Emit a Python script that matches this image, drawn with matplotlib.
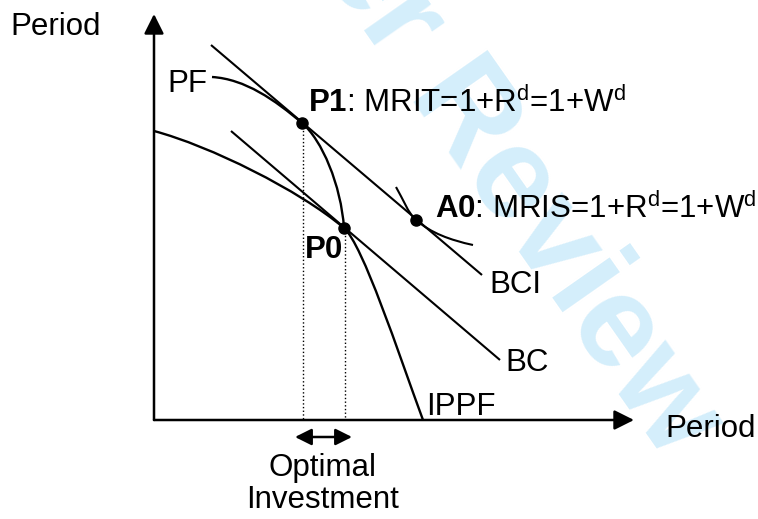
import matplotlib
matplotlib.use("Agg")
import matplotlib.pyplot as plt
from matplotlib.path import Path
from matplotlib.patches import PathPatch

plt.rcParams["font.family"] = ["Liberation Sans", "DejaVu Sans"]
plt.rcParams["mathtext.fontset"] = "custom"
plt.rcParams["mathtext.rm"] = "Liberation Sans"
plt.rcParams["mathtext.bf"] = "Liberation Sans:bold"

W, H = 758, 519

# diagram geometry in pixel units (y grows downward)
origin = (154, 420)
y_axis_top = 14
x_axis_right = 634

# budget lines (parallel)
bci_x = [211, 482]
bci_y = [45, 275]
bc_x = [231, 500]
bc_y = [131, 360]

# tangency points
pts = {"P1": (302, 123), "P0": (344, 228), "A0": (416, 220)}

# bezier anchors / controls: PF, IPPF and the indifference curve through A0
pf_x = [212, 245, 275, 302, 322, 341, 344]
pf_y = [77, 79, 100, 123, 140, 185, 228]
ippf_x = [154, 210, 299, 344, 363, 398, 423]
ippf_y = [131, 146, 190, 228, 245, 352, 420]
ic_x = [396, 403, 408, 416, 431, 450, 473]
ic_y = [187, 199, 213, 220, 233, 240, 245]

fig = plt.figure(figsize=(W / 100, H / 100), dpi=100)
ax = fig.add_axes([0, 0, 1, 1])
ax.set_xlim(0, W)
ax.set_ylim(H, 0)
ax.axis("off")

# watermark
ax.text(474, 128, "Peer Review", rotation=-55, rotation_mode="anchor",
        fontsize=94, fontweight="bold", color="#d4eefb",
        ha="center", va="center", zorder=0)


def bezier(xs, ys, **kw):
    verts = list(zip(xs, ys))
    codes = [Path.MOVETO] + [Path.CURVE4] * (len(verts) - 1)
    ax.add_patch(PathPatch(Path(verts, codes), fill=False, **kw))


# axes with arrowheads
ax_kw = dict(arrowstyle="-|>,head_length=12,head_width=6", mutation_scale=1,
             lw=1.8, color="black", shrinkA=0, shrinkB=0)
ax.annotate("", xy=(origin[0], y_axis_top), xytext=origin, arrowprops=ax_kw)
ax.annotate("", xy=(x_axis_right, origin[1]), xytext=origin, arrowprops=ax_kw)

ax.plot(bci_x, bci_y, color="black", lw=1.5, solid_capstyle="butt")
ax.plot(bc_x, bc_y, color="black", lw=1.5, solid_capstyle="butt")
bezier(pf_x, pf_y, lw=1.7, edgecolor="black")
bezier(ippf_x, ippf_y, lw=1.7, edgecolor="black")
bezier(ic_x, ic_y, lw=1.5, edgecolor="black")

# dotted drop lines
for name in ("P1", "P0"):
    px, py = pts[name]
    ax.plot([px + 1, px + 1], [py, origin[1]], color="black", lw=1.0, ls=":")

for px, py in pts.values():
    ax.plot(px, py, "o", color="black", ms=8, zorder=5)

# optimal investment double arrow
ax.annotate("", xy=(352, 437), xytext=(295, 437),
            arrowprops=dict(arrowstyle="<|-|>,head_length=10,head_width=5",
                            mutation_scale=1, lw=1.8, color="black",
                            shrinkA=0, shrinkB=0))

fs = 22.5
txt = dict(fontsize=fs, color="black", va="baseline", ha="left")
ax.text(10, 35, "Period", **txt)
ax.text(665, 437, "Period", **txt)
ax.text(167, 92, "PF", **txt)
ax.text(308, 112, r"$\mathbf{P1}$: MRIT=1+R$^{\mathrm{d}}$=1+W$^{\mathrm{d}}$", **txt)
ax.text(435, 218, r"$\mathbf{A0}$: MRIS=1+R$^{\mathrm{d}}$=1+W$^{\mathrm{d}}$", **txt)
ax.text(305, 258, "P0", fontweight="bold", **txt)
ax.text(489, 293, "BCI", **txt)
ax.text(505, 371, "BC", **txt)
ax.text(426, 415, "IPPF", **txt)
ax.text(323, 476, "Optimal", fontsize=fs, va="baseline", ha="center")
ax.text(323, 508, "Investment", fontsize=fs, va="baseline", ha="center")

fig.savefig("out.png", dpi=100)
